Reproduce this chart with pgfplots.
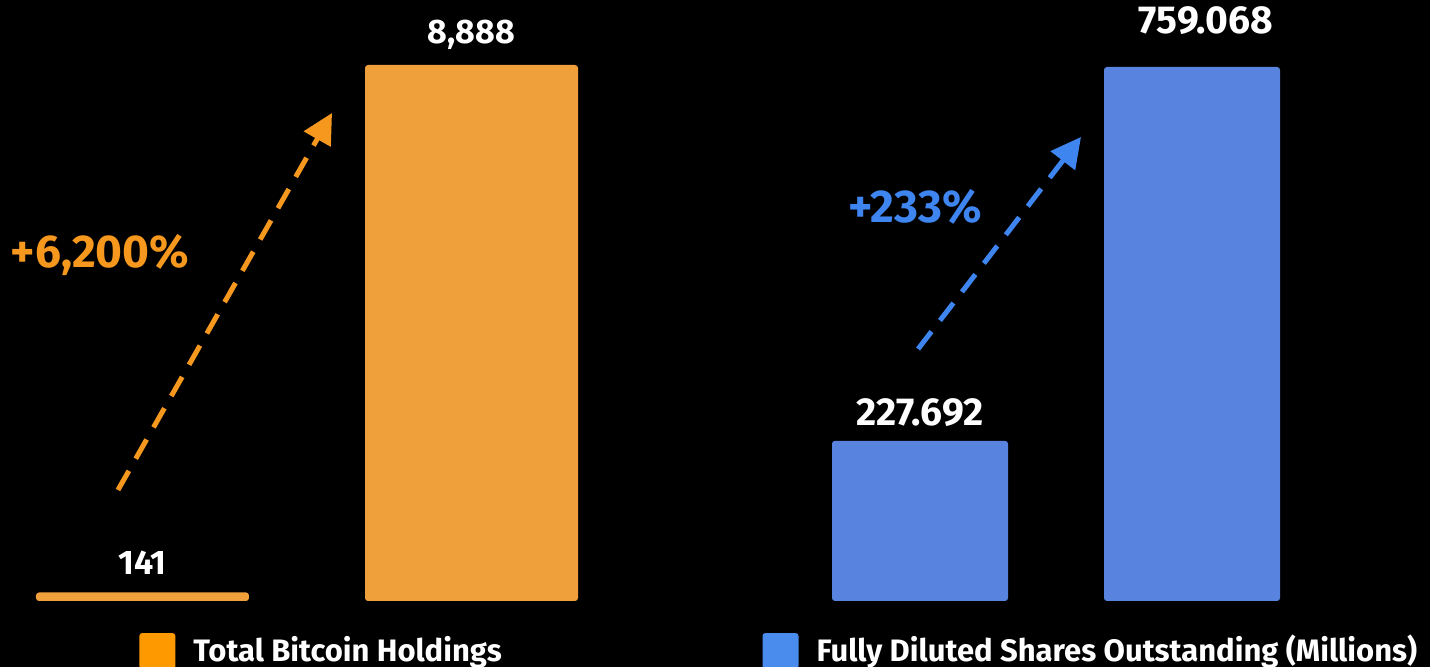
\documentclass[border=0pt]{standalone}
\usepackage{fontspec}
\setmainfont{Fira Sans}
\usepackage{pgfplots}
\pgfplotsset{compat=1.18}
\usetikzlibrary{arrows.meta}
\definecolor{barOrange}{RGB}{240,160,58}
\definecolor{barBlue}{RGB}{88,132,224}
\definecolor{txtOrange}{RGB}{247,152,30}
\definecolor{txtBlue}{RGB}{62,133,240}
\definecolor{legOrange}{RGB}{255,153,0}
\definecolor{legBlue}{RGB}{74,139,238}

\pgfplotsset{
  panel/.style={
    scale only axis, hide axis, clip=false,
    ymin=0, height=268pt,
    ybar, bar shift=0pt,
    legend style={draw=none, fill=none, text=white,
      font=\fontsize{15.5}{18}\selectfont\bfseries,
      inner sep=0pt, nodes={inner sep=0pt}, column sep=9pt},
  },
}

\begin{document}
\begin{tikzpicture}
\useasboundingbox (0,0) rectangle (715pt,333.5pt);
\fill[black] (0,0) rectangle (715pt,333.5pt);

% left panel: bitcoin holdings
\begin{axis}[panel,
    at={(18pt,33pt)}, anchor=south west,
    width=271pt, xmin=-0.3237, xmax=1.3237, ymax=8888,
    bar width=106.5pt,
    nodes near coords={\pgfmathprintnumber[1000 sep={,},assume math mode=true]{\pgfplotspointmeta}},
    every node near coord/.append style={white, anchor=center, yshift=15pt,
      font=\fontsize{17}{20}\selectfont\bfseries},
    legend image code/.code={\fill[legOrange] (0pt,-9.5pt) rectangle (18pt,8.5pt);},
    legend style={at={(0.190,-0.0933)}, anchor=west},
]
  \addplot[fill=barOrange, draw=none, rounded corners=1.5pt] coordinates {(0,141) (1,8888)};
  \addlegendentry{Total Bitcoin Holdings}
  \draw[txtOrange, line width=2.5pt, dash pattern=on 11pt off 7pt,
        -{Triangle[length=15pt,width=15pt]}]
    (axis cs:-0.0745,1841) -- (axis cs:0.576,8092);
  \node[txtOrange, font=\fontsize{23}{26}\selectfont\bfseries] at (axis cs:-0.129,5737) {+6,200\%};
\end{axis}

% right panel: fully diluted shares
\begin{axis}[panel,
    at={(416pt,33pt)}, anchor=south west,
    width=224pt, xmin=-0.3235, xmax=1.3235, ymax=761.9,
    bar width=88pt,
    legend image code/.code={\fill[legBlue] (0pt,-9.5pt) rectangle (18pt,8.5pt);},
    legend style={at={(-0.156,-0.0933)}, anchor=west},
]
  \addplot[fill=barBlue, draw=none, rounded corners=1.5pt] coordinates {(0,227.692) (1,759.068)};
  \addlegendentry{Fully Diluted Shares Outstanding (Millions)}
  \node[white, font=\fontsize{19.5}{22}\selectfont\bfseries, yshift=14pt] at (axis cs:0,227.692) {227.692};
  \node[white, font=\fontsize{19.5}{22}\selectfont\bfseries, yshift=23pt, xshift=7pt] at (axis cs:1,759.068) {759.068};
  \draw[txtBlue, line width=2.5pt, dash pattern=on 11pt off 7pt,
        -{Triangle[length=15pt,width=15pt]}]
    (axis cs:-0.007,358.2) -- (axis cs:0.592,659.6);
  \node[txtBlue, font=\fontsize{23}{26}\selectfont\bfseries] at (axis cs:-0.018,560) {+233\%};
\end{axis}
\end{tikzpicture}
\end{document}
